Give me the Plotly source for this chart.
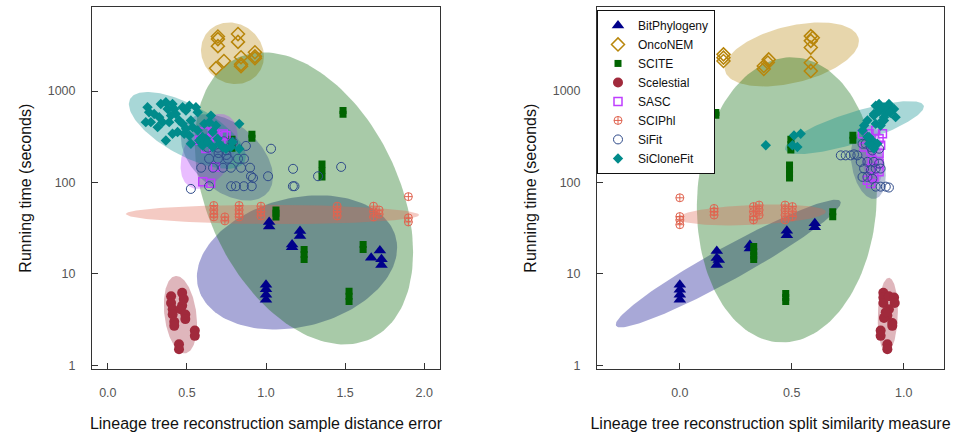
import numpy as np
import plotly.graph_objects as go

# ---------------- data ----------------
methods = ["BitPhylogeny", "OncoNEM", "SCITE", "Scelestial", "SASC", "SCIPhl", "SiFit", "SiCloneFit"]

# Left panel: sample distance error (x) vs running time in seconds (y)
bitphylogeny_sde = [1.0, 1.0, 1.0, 1.0, 1.02, 1.02, 1.165, 1.165, 1.215, 1.215, 1.665, 1.72, 1.73, 1.73]
bitphylogeny_sde_time = [7.6, 6.8, 5.9, 5.2, 37, 33, 21, 19.5, 29.5, 26, 15, 18, 14.5, 12.5]

onconem_sde = [0.696, 0.696, 0.696, 0.823, 0.823, 0.684, 0.734, 0.842, 0.842, 0.842, 0.93, 0.93, 0.93]
onconem_sde_time = [3950, 3700, 3100, 4200, 3450, 1780, 2130, 2340, 1960, 1870, 2660, 2400, 2290]

scite_sde = [0.785, 0.785, 0.785, 0.911, 0.911, 1.063, 1.063, 1.063, 1.241, 1.241, 1.241,
             1.354, 1.354, 1.354, 1.487, 1.487, 1.525, 1.525, 1.525, 1.614, 1.614]
scite_sde_time = [297, 265, 237, 337, 305, 50, 46, 42, 18.5, 16.3, 14.4,
                  159, 135, 115, 614, 556, 6.45, 5.7, 5.0, 21, 18.5]

scelestial_sde = [0.40, 0.40, 0.41, 0.41, 0.42, 0.42, 0.45, 0.45, 0.47, 0.48, 0.47, 0.46, 0.49, 0.49, 0.55, 0.55]
scelestial_sde_time = [5.7, 4.8, 4.1, 3.6, 3.0, 2.7, 1.7, 1.5, 6.2, 5.3, 4.5, 4.1, 3.6, 3.2, 2.4, 2.1]

sasc_sde = [0.61, 0.67, 0.73, 0.64, 0.62, 0.715, 0.747, 0.68, 0.60, 0.65, 0.58, 0.66, 0.69]
sasc_sde_time = [357, 357, 340, 300, 235, 280, 325, 148, 102, 98, 290, 270, 320]

sciphl_sde = [0.67, 0.67, 0.67, 0.67, 0.74, 0.74, 0.83, 0.83, 0.83, 0.83, 0.968, 0.968, 0.968,
              1.45, 1.45, 1.45, 1.68, 1.68, 1.68, 1.715, 1.715, 1.90, 1.90, 1.90]
sciphl_sde_time = [56, 50, 45, 42, 42, 38, 56, 50, 45, 42, 55, 48, 43, 55, 48, 43, 55, 48, 42, 50, 45, 70, 41, 37]

sifit_sde = [0.525, 0.64, 0.78, 0.81, 0.86, 0.91, 1.17, 1.18, 0.59, 0.665, 0.728, 0.778, 0.842, 0.899,
             0.905, 1.013, 1.171, 1.329, 1.475, 1.032, 0.873, 0.64, 0.696, 0.759, 0.823, 0.861,
             0.633, 0.696, 0.747, 0.59, 0.734, 0.791, 0.918, 0.70, 0.75]
sifit_sde_time = [85, 91, 91, 91, 91, 91, 91, 91, 145, 145, 145, 145, 145, 145,
                  117, 117, 141, 117, 148, 234, 251, 182, 182, 182, 182, 182,
                  240, 240, 225, 282, 282, 275, 112, 210, 200]

siclonefit_sde = [0.251, 0.261, 0.293, 0.240, 0.272, 0.325, 0.335, 0.367, 0.378, 0.409, 0.420, 0.430,
                  0.399, 0.451, 0.473, 0.494, 0.515, 0.557, 0.568, 0.525, 0.473, 0.441, 0.409, 0.367,
                  0.483, 0.515, 0.568, 0.610, 0.652, 0.641, 0.684, 0.663, 0.620, 0.578, 0.525, 0.599,
                  0.663, 0.705, 0.726, 0.747, 0.778, 0.789, 0.831, 0.831, 0.346, 0.388, 0.315, 0.494,
                  0.536, 0.599, 0.631, 0.694]
siclonefit_sde_time = [665, 587, 562, 457, 457, 518, 722, 754, 637, 722, 637, 562,
                       539, 476, 665, 611, 692, 665, 587, 476, 438, 356, 341, 288,
                       341, 327, 371, 438, 539, 457, 420, 356, 301, 288, 265, 254,
                       244, 265, 244, 234, 244, 277, 438, 234, 457, 457, 403, 386,
                       403, 314, 277, 301]

# Right panel: split similarity measure (x) vs running time in seconds (y)
bitphylogeny_ssm = [0.0, 0.0, 0.0, 0.0, 0.165, 0.165, 0.174, 0.165, 0.313, 0.313, 0.478, 0.478, 0.603, 0.603]
bitphylogeny_ssm_time = [7.6, 6.7, 5.9, 5.2, 17.8, 14.9, 14.2, 12.5, 20.7, 19, 29.6, 26.5, 35.7, 32.4]

onconem_ssm = [0.195, 0.195, 0.195, 0.375, 0.393, 0.397, 0.375, 0.585, 0.594, 0.585, 0.585, 0.585, 0.585]
onconem_ssm_time = [2520, 2320, 2130, 1880, 2050, 2220, 1740, 3990, 3820, 3540, 2990, 2040, 1660]

scite_ssm = [0.161, 0.161, 0.496, 0.496, 0.496, 0.49, 0.49, 0.49, 0.49, 0.773, 0.773, 0.683, 0.683,
             0.33, 0.33, 0.33, 0.33, 0.473, 0.473, 0.473]
scite_ssm_time = [584, 542, 297, 258, 226, 155, 137, 124, 112, 328, 290, 47.8, 42.2,
                  19.9, 17.5, 15.8, 14.4, 6.1, 5.5, 5.0]

scelestial_ssm = [0.909, 0.909, 0.909, 0.934, 0.957, 0.96, 0.934, 0.927, 0.949, 0.949, 0.897, 0.897,
                  0.927, 0.927, 0.912, 0.92]
scelestial_ssm_time = [6.2, 5.5, 4.8, 5.7, 5.5, 4.8, 4.1, 3.5, 2.9, 2.7, 2.4, 2.1, 1.7, 1.5, 3.3, 3.8]

sasc_ssm = [0.816, 0.845, 0.905, 0.875, 0.890, 0.897, 0.823, 0.853, 0.890, 0.860, 0.890, 0.853,
            0.890, 0.838, 0.853, 0.867]
sasc_ssm_time = [341, 341, 341, 370, 301, 255, 244, 224, 207, 175, 161, 142, 131, 106, 97.5, 115]

sciphl_ssm = [0.0, 0.0, 0.0, 0.0, 0.153, 0.153, 0.153, 0.329, 0.329, 0.329, 0.329, 0.354, 0.354, 0.354,
              0.47, 0.47, 0.47, 0.47, 0.503, 0.503, 0.503]
sciphl_ssm_time = [68, 42.4, 38.9, 34.5, 52, 48, 44, 54.5, 48, 42.4, 38.9, 56.6, 50, 44,
                   56.6, 50, 44, 38.9, 54.5, 48, 42.4]

sifit_ssm = [0.719, 0.741, 0.763, 0.778, 0.793, 0.816, 0.830, 0.853, 0.808, 0.838, 0.867, 0.890,
             0.823, 0.853, 0.875, 0.897, 0.816, 0.838, 0.860, 0.875, 0.897, 0.920, 0.934, 0.860, 0.890]
sifit_ssm_time = [198, 198, 198, 203, 198, 265, 265, 244, 168, 168, 168, 161,
                  142, 136, 142, 142, 115, 115, 110, 90, 90, 90, 88, 224, 234]

siclonefit_ssm = [0.875, 0.890, 0.912, 0.934, 0.950, 0.964, 0.912, 0.867, 0.838, 0.823, 0.816, 0.838,
                  0.860, 0.882, 0.867, 0.845, 0.510, 0.525, 0.540, 0.503, 0.384, 0.912, 0.867, 0.875,
                  0.897, 0.927, 0.905, 0.845, 0.957, 0.890, 0.920, 0.940]
siclonefit_ssm_time = [692, 722, 665, 722, 637, 518, 476, 562, 476, 420, 370, 314,
                       288, 265, 234, 265, 327, 244, 341, 255, 255, 518, 539, 438,
                       420, 611, 476, 314, 637, 600, 560, 580]

# Confidence-ellipse summaries (centre, half-extent in x, half-extent in log10 seconds,
# correlation), one value per method in the order of `methods`.
sde_ell_cx = [1.196, 0.788, 1.240, 0.459, 0.640, 1.041, 0.753, 0.503]
sde_ell_cy = [1.125, 3.413, 1.826, 0.554, 2.340, 1.650, 2.275, 2.570]
sde_ell_ax = [0.633, 0.199, 0.690, 0.105, 0.180, 0.927, 0.291, 0.370]
sde_ell_ay = [0.734, 0.337, 1.598, 0.424, 0.410, 0.105, 0.473, 0.420]
sde_ell_rho = [0.22, -0.10, -0.37, -0.25, 0.40, -0.05, -0.45, -0.68]

ssm_ell_cx = [0.2165, 0.500, 0.478, 0.929, 0.860, 0.321, 0.842, 0.780]
ssm_ell_cy = [1.113, 3.400, 1.810, 0.549, 2.300, 1.645, 2.190, 2.600]
ssm_ell_ax = [0.5025, 0.300, 0.402, 0.045, 0.050, 0.331, 0.078, 0.310]
ssm_ell_ay = [0.698, 0.350, 1.560, 0.408, 0.330, 0.115, 0.370, 0.290]
ssm_ell_rho = [0.955, 0.42, 0.05, 0.10, -0.20, 0.30, -0.30, 0.79]

y_tickvals = [1, 10, 100, 1000]
y_ticktext = ["1", "10", "100", "1000"]
sde_ticks = [0.0, 0.5, 1.0, 1.5, 2.0]
ssm_ticks = [0.0, 0.5, 1.0]

# ---------------- styles ----------------
colors = ["#00008B", "#B8860B", "#006400", "#A12A3C", "#BF3EFF", "#E06450", "#2F4B8A", "#008B8B"]
symbols = ["triangle-up", "diamond-open", "square", "circle", "square-open",
           "circle-cross-open", "circle-open", "diamond"]
sizes = [11, 10, 7, 10, 8, 8, 9, 8]
line_w = [0, 1.5, 0, 0, 1.5, 1, 1, 0]

left_x = [bitphylogeny_sde, onconem_sde, scite_sde, scelestial_sde, sasc_sde, sciphl_sde, sifit_sde, siclonefit_sde]
left_y = [bitphylogeny_sde_time, onconem_sde_time, scite_sde_time, scelestial_sde_time,
          sasc_sde_time, sciphl_sde_time, sifit_sde_time, siclonefit_sde_time]
right_x = [bitphylogeny_ssm, onconem_ssm, scite_ssm, scelestial_ssm, sasc_ssm, sciphl_ssm, sifit_ssm, siclonefit_ssm]
right_y = [bitphylogeny_ssm_time, onconem_ssm_time, scite_ssm_time, scelestial_ssm_time,
           sasc_ssm_time, sciphl_ssm_time, sifit_ssm_time, siclonefit_ssm_time]


def rgba(hex_color, a):
    h = hex_color.lstrip("#")
    r, g, b = int(h[0:2], 16), int(h[2:4], 16), int(h[4:6], 16)
    return f"rgba({r},{g},{b},{a})"


def ellipse(cx, cy, ax, ay, rho, n=160):
    t = np.linspace(0, 2 * np.pi, n)
    ex = cx + ax * np.cos(t)
    ey = cy + ay * np.cos(t + np.arccos(rho))
    return ex, 10 ** ey


fig = go.Figure()

panels = [
    ("x", "y", left_x, left_y, sde_ell_cx, sde_ell_cy, sde_ell_ax, sde_ell_ay, sde_ell_rho, True),
    ("x2", "y2", right_x, right_y, ssm_ell_cx, ssm_ell_cy, ssm_ell_ax, ssm_ell_ay, ssm_ell_rho, False),
]

for xa, ya, px, py, ecx, ecy, eax, eay, erho, show in panels:
    for i, m in enumerate(methods):
        ex, ey = ellipse(ecx[i], ecy[i], eax[i], eay[i], erho[i])
        fig.add_trace(go.Scatter(x=ex, y=ey, mode="lines", fill="toself",
                                 fillcolor=rgba(colors[i], 0.34), line=dict(width=0),
                                 hoverinfo="skip", showlegend=False, xaxis=xa, yaxis=ya))
    for i, m in enumerate(methods):
        fig.add_trace(go.Scatter(
            x=px[i], y=py[i], mode="markers", name=m, legendgroup=m, showlegend=show,
            marker=dict(symbol=symbols[i], size=sizes[i], color=colors[i],
                        line=dict(width=line_w[i], color=colors[i])),
            xaxis=xa, yaxis=ya))

font_family = "Liberation Sans, Arial, sans-serif"
axis_common = dict(showline=True, linecolor="#333333", linewidth=1, mirror=True,
                   ticks="inside", ticklen=6, tickcolor="#333333", showgrid=False, zeroline=False,
                   tickfont=dict(family=font_family, size=12.5, color="#555555"),
                   title_font=dict(family=font_family, size=16, color="#111111"))

y_dom = [1 - 372 / 432, 1 - 7 / 432]

fig.update_layout(
    width=961, height=432,
    margin=dict(l=0, r=0, t=0, b=0),
    paper_bgcolor="white", plot_bgcolor="white",
    font=dict(family=font_family),
    xaxis=dict(domain=[92 / 961, 440 / 961], range=[-0.1, 2.1], tickvals=sde_ticks,
               tickformat=".1f", title=dict(text="Lineage tree reconstruction sample distance error", standoff=19),
               ticklabelstandoff=12, anchor="y", **axis_common),
    yaxis=dict(domain=y_dom, type="log", range=[-0.045, 3.92], tickvals=y_tickvals, ticktext=y_ticktext,
               title=dict(text="Running time (seconds)", standoff=12), ticklabelstandoff=13,
               anchor="x", **axis_common),
    xaxis2=dict(domain=[597 / 961, 944 / 961], range=[-0.37, 1.18], tickvals=ssm_ticks,
                tickformat=".1f", title=dict(text="Lineage tree reconstruction split similarity measure", standoff=19),
                ticklabelstandoff=12, anchor="y2", **axis_common),
    yaxis2=dict(domain=y_dom, type="log", range=[-0.045, 3.92], tickvals=y_tickvals, ticktext=y_ticktext,
                title=dict(text="Running time (seconds)", standoff=12), ticklabelstandoff=13,
                anchor="x2", **axis_common),
    legend=dict(x=597 / 961, y=1 - 10 / 432, xanchor="left", yanchor="top",
                bgcolor="white", bordercolor="#111111", borderwidth=1,
                font=dict(family=font_family, size=12, color="#111111"),
                itemwidth=30, tracegroupgap=0),
)

fig.write_html("out.html")
